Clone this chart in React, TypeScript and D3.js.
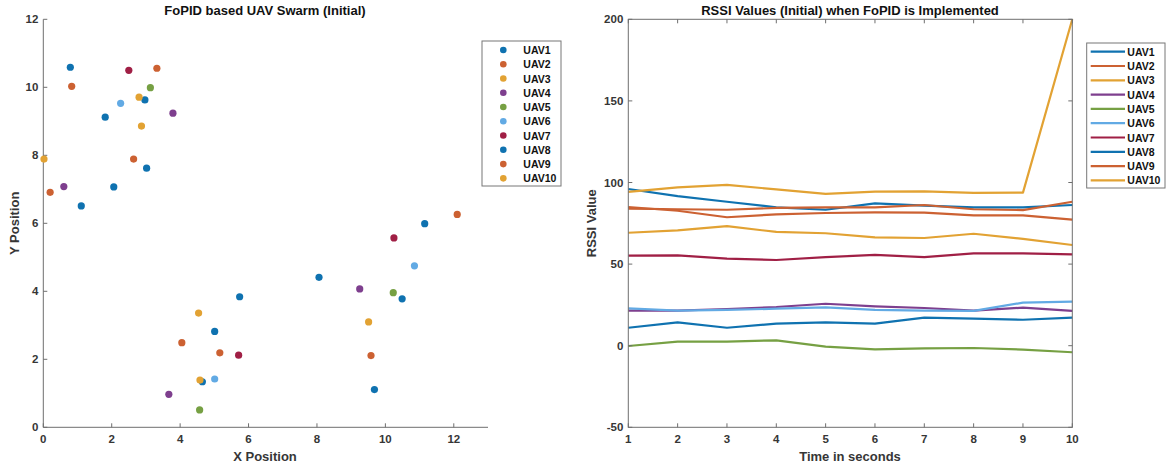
import React from 'react';
import * as d3 from 'd3';

const uavNames = ['UAV1', 'UAV2', 'UAV3', 'UAV4', 'UAV5', 'UAV6', 'UAV7', 'UAV8', 'UAV9', 'UAV10'];
const palette = ['#0F72B0', '#CC6132', '#E2A233', '#7E3F8E', '#76A043', '#62AAE4', '#A01F45'];

// scatter: initial swarm positions [x, y] per UAV
const swarmUAV1 = [[0.79, 10.59], [2.97, 9.63], [1.81, 9.12], [5.74, 3.84], [5.01, 2.82], [11.15, 5.99], [9.68, 1.11]];
const swarmUAV2 = [[0.83, 10.03], [2.64, 7.89], [4.05, 2.49], [12.1, 6.26]];
const swarmUAV3 = [[2.8, 9.71], [0.02, 7.89], [4.54, 3.36]];
const swarmUAV4 = [[3.79, 9.24], [0.6, 7.08], [3.67, 0.97], [9.25, 4.07]];
const swarmUAV5 = [[3.13, 9.99], [4.57, 0.51], [10.23, 3.96]];
const swarmUAV6 = [[2.26, 9.53], [5.01, 1.42], [10.85, 4.75]];
const swarmUAV7 = [[2.5, 10.5], [5.71, 2.12], [10.25, 5.57]];
const swarmUAV8 = [[3.02, 7.62], [2.06, 7.07], [1.11, 6.51], [4.65, 1.34], [8.06, 4.41], [10.49, 3.78]];
const swarmUAV9 = [[3.32, 10.56], [0.2, 6.91], [5.16, 2.19], [9.58, 2.11]];
const swarmUAV10 = [[2.87, 8.86], [4.58, 1.39], [9.51, 3.1]];
const swarm = [swarmUAV1, swarmUAV2, swarmUAV3, swarmUAV4, swarmUAV5, swarmUAV6, swarmUAV7, swarmUAV8, swarmUAV9, swarmUAV10];

// RSSI over time
const timeSec = [1, 2, 3, 4, 5, 6, 7, 8, 9, 10];
const rssiUAV1 = [96, 91.7, 88.2, 84.8, 83.3, 87.2, 85.8, 84.8, 84.8, 86.2];
const rssiUAV2 = [84, 83.6, 83.3, 84.4, 84.8, 84.8, 86.2, 83.6, 83.1, 88.2];
const rssiUAV3 = [69.2, 70.7, 73.3, 69.7, 68.9, 66.4, 66, 68.6, 65.4, 61.7];
const rssiUAV4 = [21.5, 21.5, 22.5, 23.7, 25.7, 24.1, 23.1, 21.5, 23.3, 21.3];
const rssiUAV5 = [-0.2, 2.5, 2.5, 3.3, -0.6, -2.2, -1.6, -1.4, -2.4, -4];
const rssiUAV6 = [22.9, 21.5, 21.9, 22.7, 23.5, 21.9, 21.5, 21.3, 26.4, 27];
const rssiUAV7 = [55.2, 55.4, 53.3, 52.5, 54.3, 55.6, 54.3, 56.6, 56.6, 56];
const rssiUAV8 = [11, 14.3, 11, 13.5, 14.3, 13.5, 17.2, 16.6, 15.9, 17.2];
const rssiUAV9 = [85, 82.7, 78.7, 80.5, 81.3, 81.7, 81.5, 79.9, 79.9, 77.2];
const rssiUAV10 = [94.2, 97, 98.5, 95.8, 93, 94.4, 94.6, 93.6, 93.8, 200];
const rssi = [rssiUAV1, rssiUAV2, rssiUAV3, rssiUAV4, rssiUAV5, rssiUAV6, rssiUAV7, rssiUAV8, rssiUAV9, rssiUAV10];

const xPosTicks = [0, 2, 4, 6, 8, 10, 12];
const yPosTicks = [0, 2, 4, 6, 8, 10, 12];
const rssiTicks = [-50, 0, 50, 100, 150, 200];

const color = (i: number) => palette[i % palette.length];
const font = '"Liberation Sans", Arial, Helvetica, sans-serif';
const axisColor = '#6e6e6e';
const textColor = '#363636';

const App = () => {
  // left panel
  const lx = d3.scaleLinear().domain([0, 13]).range([43.3, 488]);
  const ly = d3.scaleLinear().domain([0, 12]).range([427.3, 19.3]);
  // right panel
  const rx = d3.scaleLinear().domain([1, 10]).range([628.3, 1072.3]);
  const ry = d3.scaleLinear().domain([-50, 200]).range([427.3, 19.3]);
  const line = d3.line<number>().x((_, i) => rx(timeSec[i])).y(d => ry(d));

  const tick = 4;

  return (
    <svg width={1171} height={468} style={{ position: 'absolute', left: 0, top: 0, background: '#fff' }}
      fontFamily={font} fontWeight="bold">
      {/* ---------- left: scatter ---------- */}
      <text x={265} y={15} textAnchor="middle" fontSize={13} fill="#111">FoPID based UAV Swarm (Initial)</text>
      <g stroke={axisColor} strokeWidth={1}>
        <line x1={lx(0)} x2={lx(13)} y1={ly(0)} y2={ly(0)} />
        <line x1={lx(0)} x2={lx(0)} y1={ly(0)} y2={ly(12)} />
        {xPosTicks.map(t => <line key={'lxt' + t} x1={lx(t)} x2={lx(t)} y1={ly(0)} y2={ly(0) - tick} />)}
        {yPosTicks.map(t => <line key={'lyt' + t} x1={lx(0)} x2={lx(0) + tick} y1={ly(t)} y2={ly(t)} />)}
      </g>
      {xPosTicks.map(t => (
        <text key={'lxl' + t} x={lx(t)} y={ly(0) + 16} textAnchor="middle" fontSize={11.5} fill={textColor}>{t}</text>
      ))}
      {yPosTicks.map(t => (
        <text key={'lyl' + t} x={lx(0) - 5} y={ly(t) + 4} textAnchor="end" fontSize={11.5} fill={textColor}>{t}</text>
      ))}
      <text x={265} y={461} textAnchor="middle" fontSize={13} fill={textColor}>X Position</text>
      <text transform={`translate(19,${ly(6)}) rotate(-90)`} textAnchor="middle" fontSize={13} fill={textColor}>Y Position</text>
      {swarm.map((pts, i) => (
        <g key={'s' + i} fill={color(i)}>
          {pts.map((p, j) => <circle key={j} cx={lx(p[0])} cy={ly(p[1])} r={3.6} />)}
        </g>
      ))}
      {/* legend */}
      <rect x={482} y={41} width={79} height={145} fill="#fff" stroke="#777" strokeWidth={1} />
      {uavNames.map((n, i) => (
        <g key={'ll' + n} transform={`translate(0,${50 + i * 14.26})`}>
          <circle cx={503.3} cy={0} r={3.3} fill={color(i)} />
          <text x={523.3} y={4} fontSize={10.5} fill="#111">{n}</text>
        </g>
      ))}

      {/* ---------- right: RSSI lines ---------- */}
      <text x={850} y={15} textAnchor="middle" fontSize={13} fill="#111">RSSI Values (Initial) when FoPID is Implemented</text>
      {rssi.map((vals, i) => (
        <path key={'r' + i} d={line(vals) ?? ''} fill="none" stroke={color(i)} strokeWidth={2.2} strokeLinejoin="round" />
      ))}
      <g stroke={axisColor} strokeWidth={1} fill="none">
        <rect x={rx(1)} y={ry(200)} width={rx(10) - rx(1)} height={ry(-50) - ry(200)} />
        {timeSec.map(t => (
          <g key={'rxt' + t}>
            <line x1={rx(t)} x2={rx(t)} y1={ry(-50)} y2={ry(-50) - tick} />
            <line x1={rx(t)} x2={rx(t)} y1={ry(200)} y2={ry(200) + tick} />
          </g>
        ))}
        {rssiTicks.map(t => (
          <g key={'ryt' + t}>
            <line x1={rx(1)} x2={rx(1) + tick} y1={ry(t)} y2={ry(t)} />
            <line x1={rx(10)} x2={rx(10) - tick} y1={ry(t)} y2={ry(t)} />
          </g>
        ))}
      </g>
      {timeSec.map(t => (
        <text key={'rxl' + t} x={rx(t)} y={ry(-50) + 16} textAnchor="middle" fontSize={11.5} fill={textColor}>{t}</text>
      ))}
      {rssiTicks.map(t => (
        <text key={'ryl' + t} x={rx(1) - 5} y={ry(t) + 4} textAnchor="end" fontSize={11.5} fill={textColor}>{t}</text>
      ))}
      <text x={850} y={461} textAnchor="middle" fontSize={13} fill={textColor}>Time in seconds</text>
      <text transform={`translate(596,${ry(75)}) rotate(-90)`} textAnchor="middle" fontSize={13} fill={textColor}>RSSI Value</text>
      {/* legend */}
      <rect x={1086.7} y={43} width={78.3} height={145} fill="#fff" stroke="#777" strokeWidth={1} />
      {uavNames.map((n, i) => (
        <g key={'rl' + n} transform={`translate(0,${51.7 + i * 14.3})`}>
          <line x1={1090.7} x2={1125} y1={0} y2={0} stroke={color(i)} strokeWidth={2.2} />
          <text x={1127.3} y={4} fontSize={10.5} fill="#111">{n}</text>
        </g>
      ))}
    </svg>
  );
};

export default App;
